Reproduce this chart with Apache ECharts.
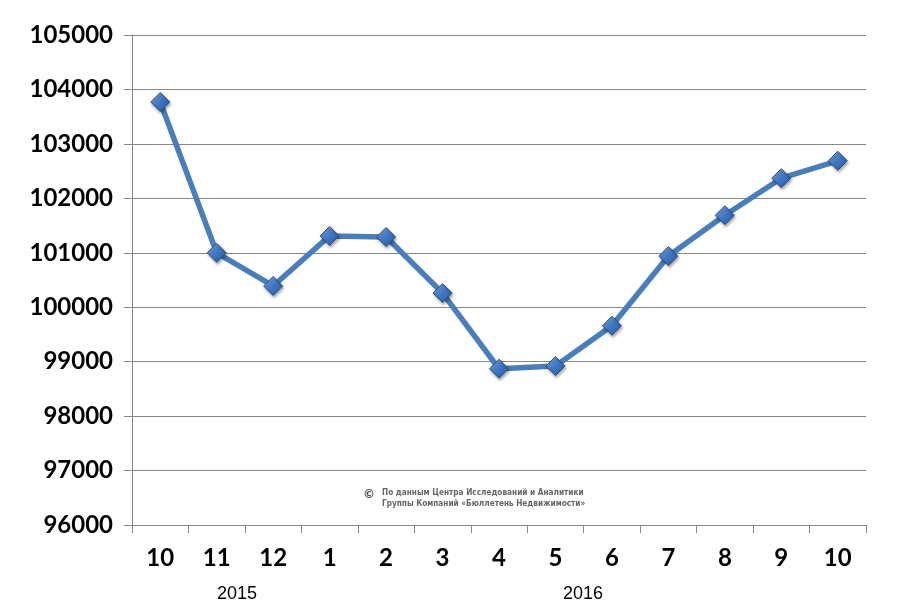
<!DOCTYPE html>
<html><head><meta charset="utf-8">
<script src="https://cdn.jsdelivr.net/npm/echarts@6/dist/echarts.min.js"></script>
<style>html,body{margin:0;padding:0;background:#fff}#c{width:900px;height:611px}</style>
</head><body><div id="c"></div>
<script>
const categories = ['10','11','12','1','2','3','4','5','6','7','8','9','10'];
const values = [103770, 101000, 100390, 101310, 101290, 100260, 98870, 98920, 99660, 100940, 101690, 102370, 102690];
const yearLabels = ['2015', '2016'];
const yMin = 96000, yMax = 105000, yStep = 1000;

const chart = echarts.init(document.getElementById('c'));
chart.setOption({
  animation: false,
  backgroundColor: '#fff',
  grid: {left: 132, right: 34, top: 35, bottom: 86},
  xAxis: {
    type: 'category', data: categories, boundaryGap: true,
    axisLine: {lineStyle: {color: '#868686', width: 1}},
    axisTick: {show: true, length: 8, lineStyle: {color: '#868686'}},
    axisLabel: {fontFamily: 'Lato', fontWeight: 'bold', fontSize: 24, color: '#000', margin: 21}
  },
  yAxis: {
    type: 'value', min: yMin, max: yMax, interval: yStep,
    axisLine: {show: true, lineStyle: {color: '#868686'}},
    axisTick: {show: true, length: 8, lineStyle: {color: '#868686'}},
    splitLine: {lineStyle: {color: '#868686', width: 1}},
    axisLabel: {fontFamily: 'Lato', fontWeight: 'bold', fontSize: 24, color: '#000', margin: 19,
      formatter: v => String(v)}
  },
  series: [{
    type: 'line', data: values,
    lineStyle: {color: '#4a7ebb', width: 5.5},
    symbol: 'diamond', symbolSize: [19, 19], showAllSymbol: true,
    itemStyle: {
      color: new echarts.graphic.LinearGradient(0, 0, 1, 1, [
        {offset: 0, color: '#8fb4e6'}, {offset: 0.5, color: '#3f76c4'}, {offset: 1, color: '#2a5a9e'}]),
      borderColor: '#2b4f80', borderWidth: 1,
      shadowColor: 'rgba(0,0,0,0.35)', shadowBlur: 3, shadowOffsetX: 1, shadowOffsetY: 2
    }
  }],
  graphic: [
    {type: 'text', x: 237, y: 594, style: {text: yearLabels[0], font: '18px "Liberation Sans"', fill: '#000', textAlign: 'center', textVerticalAlign: 'middle'}},
    {type: 'text', x: 583, y: 594, style: {text: yearLabels[1], font: '18px "Liberation Sans"', fill: '#000', textAlign: 'center', textVerticalAlign: 'middle'}},
    {type: 'text', left: 363, top: 489, style: {text: '©', font: 'bold 12px "DejaVu Sans"', fill: '#555'}},
    {type: 'text', left: 382, top: 487, style: {text: 'По данным Центра Исследований и Аналитики\nГруппы Компаний «Бюллетень Недвижимости»', font: 'bold 8.2px "DejaVu Sans Condensed"', fill: '#666', lineHeight: 11}}
  ]
});
</script></body></html>
